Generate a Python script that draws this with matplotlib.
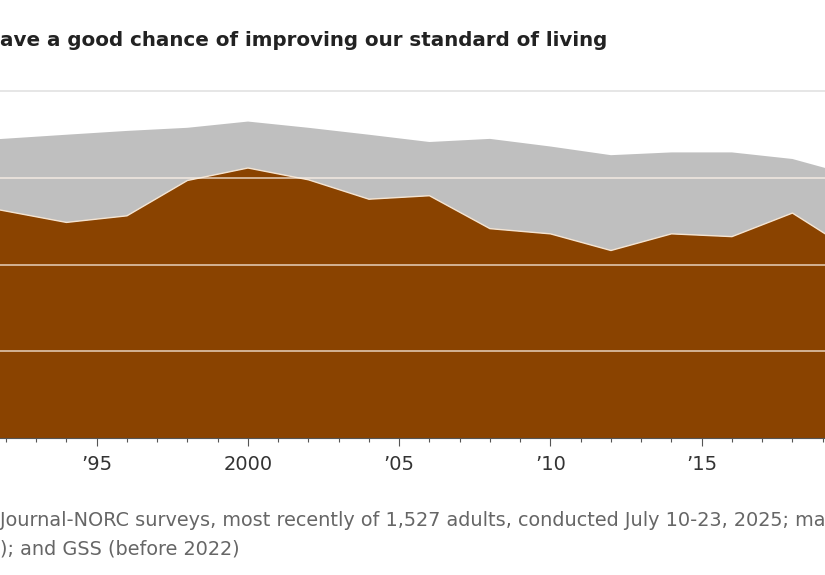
import matplotlib
matplotlib.use("Agg")
import matplotlib.pyplot as plt
from matplotlib.ticker import FixedLocator, MultipleLocator

plt.rcParams["font.family"] = ["Liberation Sans Narrow", "DejaVu Sans"]

# survey years and shares (percent)
years = [1991, 1994, 1996, 1998, 2000, 2002, 2004, 2006, 2008, 2010, 2012, 2014, 2016, 2018, 2021]
agree = [67.1, 62.2, 64.1, 74.3, 77.9, 74.5, 68.9, 69.9, 60.4, 58.9, 54.1, 58.9, 58.1, 64.9, 48.3]
# top of the grey band (agree + the grey group)
grey_top = [85.8, 87.5, 88.6, 89.5, 91.3, 89.5, 87.5, 85.4, 86.3, 84.1, 81.6, 82.4, 82.4, 80.5, 73.3]

tick_years = [1995, 2000, 2005, 2010, 2015]
tick_labels = ["\u201995", "2000", "\u201905", "\u201910", "\u201915"]
grid_levels = [25, 50, 75]

title = "ave a good chance of improving our standard of living"
note_1 = "Journal-NORC surveys, most recently of 1,527 adults, conducted July 10-23, 2025; ma"
note_2 = "); and GSS (before 2022)"

BROWN = "#8a4300"
GREY = "#bfbfbf"

fig = plt.figure(figsize=(8.25, 5.75), dpi=100)
W, H = 825, 575
ax = fig.add_axes([0, (H - 438) / H, 1, (438 - 91.4) / H])

ax.fill_between(years, 0, agree, color=BROWN, lw=0, zorder=2)
ax.fill_between(years, agree, grey_top, color=GREY, lw=0, zorder=2)
ax.plot(years, agree, color="#f4e4d2", lw=1.0, zorder=3)

for g in grid_levels:
    ax.axhline(g, color="#fff4ea", alpha=0.8, lw=1.1, zorder=4)
ax.axhline(100, color="#e2e2e2", lw=1.2, zorder=1, clip_on=False)

ax.set_xlim(1995 - 96.7 / 30.25, 1995 + (W - 96.7) / 30.25)
ax.set_ylim(0, 100)

for s in ["top", "right", "left"]:
    ax.spines[s].set_visible(False)
ax.spines["bottom"].set_color("#555555")
ax.spines["bottom"].set_linewidth(0.8)
ax.spines["bottom"].set_zorder(5)

ax.set_yticks([])
ax.xaxis.set_major_locator(FixedLocator(tick_years))
ax.xaxis.set_minor_locator(MultipleLocator(1))
ax.set_xticklabels(tick_labels)
ax.tick_params(axis="x", which="major", length=6, width=0.8, color="#555555",
               labelsize=14, labelcolor="#333333", pad=6)
ax.tick_params(axis="x", which="minor", length=3, width=0.8, color="#555555")

fig.text(0, 1 - 40 / H, title, ha="left", va="center", fontsize=14.3,
         fontweight="bold", color="#222222")
fig.text(0, 1 - 521 / H, note_1, ha="left", va="center", fontsize=13.9, color="#666666")
fig.text(0, 1 - 549 / H, note_2, ha="left", va="center", fontsize=13.9, color="#666666")

fig.savefig("out.png", dpi=100)
